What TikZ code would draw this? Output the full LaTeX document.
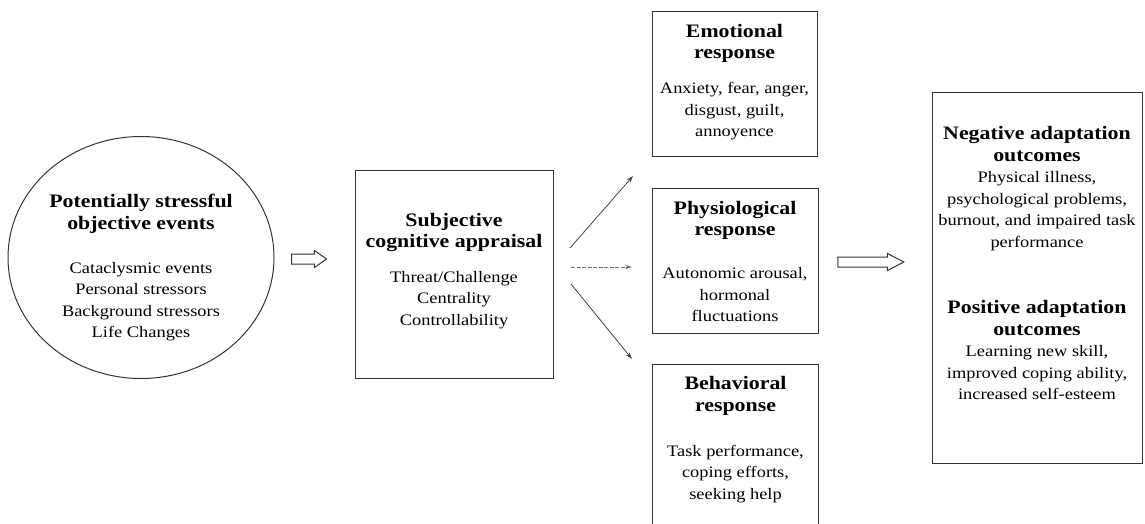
\documentclass[tikz,border=0pt]{standalone}
\usepackage{fontspec}
\setmainfont[FakeStretch=1.15]{Liberation Serif}
\usetikzlibrary{shapes.geometric,shapes.arrows,arrows.meta}
\newcommand\headtxt[1]{{\fontsize{19}{21.5}\selectfont\bfseries #1}}
\begin{document}
\begin{tikzpicture}[x=1pt,y=-1pt,
  frame/.style={draw=black!80, line width=1pt, inner sep=0pt},
  txt/.style={align=center, font=\fontsize{16}{21.5}\selectfont, inner sep=0pt, text=black},
  thinarrow/.style={draw=black!75, line width=0.8pt, -{Stealth[length=7pt,width=4.5pt]}},
  hollow/.style={single arrow, draw=black!80, line width=1pt, fill=white,
    inner xsep=0pt, inner ysep=4.5pt, single arrow head extend=3.5pt}]
\useasboundingbox (0,0) rectangle (1145,524);

% boxes
\node[frame, ellipse, minimum width=266pt, minimum height=242pt] (circ) at (141,257.5) {};
\node[frame, minimum width=198pt, minimum height=208pt] (sub) at (454,274) {};
\node[frame, minimum width=165pt, minimum height=144pt] (emo) at (734.5,84) {};
\node[frame, minimum width=166pt, minimum height=145pt] (phys) at (735,260.5) {};
\node[inner sep=0pt, minimum width=165pt, minimum height=159pt] (beh) at (735.5,444.5) {};
\draw[draw=black!80, line width=1pt] (beh.south west) -- (beh.north west) -- (beh.north east) -- (beh.south east);
\node[frame, minimum width=210pt, minimum height=370pt] (out) at (1037,278) {};

% texts
\node[txt] (circt) at (141,268) {\headtxt{Potentially stressful}\\\headtxt{objective events}\\[22.5pt]
  Cataclysmic events\\Personal stressors\\Background stressors\\Life Changes};
\node[txt] (subt) at (454,271) {\headtxt{Subjective}\\\headtxt{cognitive appraisal}\\[13pt]
  Threat/Challenge\\Centrality\\Controllability};
\node[txt] (emot) at (734.5,82) {\headtxt{Emotional}\\\headtxt{response}\\[13.5pt]
  Anxiety, fear, anger,\\disgust, guilt,\\annoyence};
\node[txt] (physt) at (735,261.5) {\headtxt{Physiological}\\\headtxt{response}\\[21.5pt]
  Autonomic arousal,\\hormonal\\fluctuations};
\node[txt] (beht) at (735.5,439.5) {\headtxt{Behavioral}\\\headtxt{response}\\[23.5pt]
  Task performance,\\coping efforts,\\seeking help};
\node[txt] (outt) at (1037,263) {\headtxt{Negative adaptation}\\\headtxt{outcomes}\\
  Physical illness,\\psychological problems,\\burnout, and impaired task\\performance\\[45pt]
  \headtxt{Positive adaptation}\\\headtxt{outcomes}\\Learning new skill,\\improved coping ability,\\increased self-esteem};

% hollow arrows
\node[hollow, minimum height=35pt, single arrow tip angle=70] (ar1) at (305.5,259) {};
\node[hollow, minimum height=66pt, single arrow tip angle=55] (ar2) at (866,262) {};

% thin arrows
\coordinate (s1) at (570,248);
\coordinate (e1) at (633,176);
\coordinate (s2) at (571,267);
\coordinate (e2) at (632,267);
\coordinate (s3) at (571,284);
\coordinate (e3) at (632,359);
\draw[thinarrow] (s1) -- (e1);
\draw[thinarrow, draw=black!55, dash pattern=on 4pt off 1.5pt] (s2) -- (e2);
\draw[thinarrow] (s3) -- (e3);
\end{tikzpicture}
\end{document}
